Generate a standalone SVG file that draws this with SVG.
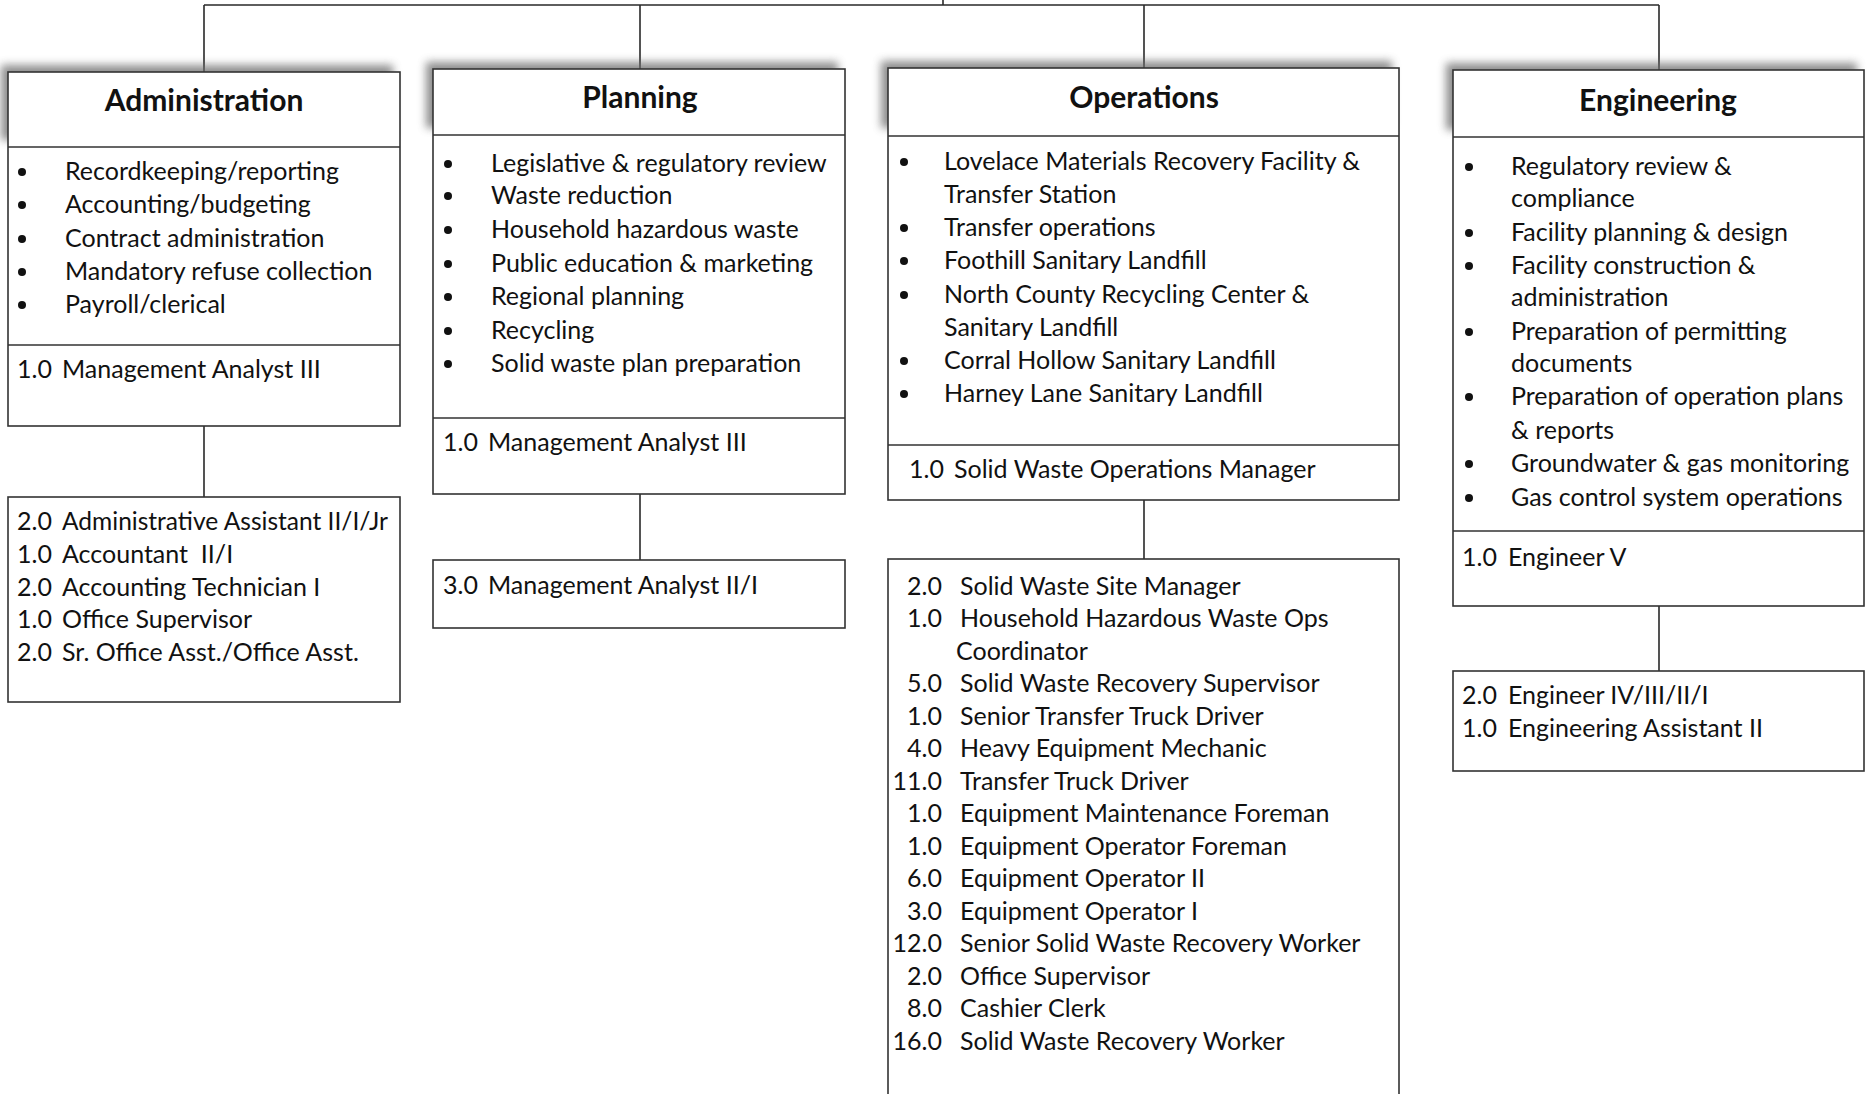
<svg xmlns="http://www.w3.org/2000/svg" width="1872" height="1094" viewBox="0 0 1872 1094">
  <defs>
    <filter id="hdrShadow" x="-10%" y="-40%" width="120%" height="180%">
      <feGaussianBlur stdDeviation="4"/>
    </filter>
    <style>
      .box { fill: #ffffff; stroke: #333333; stroke-width: 1.6; }
      .rule { stroke: #333333; stroke-width: 1.6; fill: none; }
      .shadow { fill: #6a6a6a; opacity: 0.75; filter: url(#hdrShadow); }
      .link { stroke: #2a2a2a; stroke-width: 1.6; fill: none; }
      .title { font-family: Lato, "Liberation Sans", sans-serif; font-weight: bold; font-size: 30px; fill: #111; text-anchor: middle; }
      .item { font-family: Lato, "Liberation Sans", sans-serif; font-size: 25px; fill: #111; }
      .num { text-anchor: end; }
      .dot { fill: #111; }
    </style>
  </defs>

  <rect width="1872" height="1094" fill="#ffffff"/>

  <!-- connectors -->
  <g id="connectors">
    <path class="link" d="M943 0 V5 M204 5 H1659 M204 5 V72 M640 5 V69 M1144 5 V68 M1659 5 V70"/>
    <path class="link" d="M204 426 V497 M640 494 V560 M1144 500 V559 M1659 606 V671"/>
  </g>

  <!-- Administration -->
  <g id="administration">
    <rect class="shadow" x="1" y="65" width="392" height="75"/>
    <rect class="box" x="8" y="72" width="392" height="354"/>
    <path class="rule" d="M8 147 H400 M8 345 H400"/>
    <text class="title" x="204" y="111">Administration</text>
    <g class="item">
      <circle class="dot" cx="22" cy="172" r="4"/><text x="65" y="180">Recordkeeping/reporting</text>
      <circle class="dot" cx="22" cy="205" r="4"/><text x="65" y="213">Accounting/budgeting</text>
      <circle class="dot" cx="22" cy="239" r="4"/><text x="65" y="247">Contract administration</text>
      <circle class="dot" cx="22" cy="272" r="4"/><text x="65" y="280">Mandatory refuse collection</text>
      <circle class="dot" cx="22" cy="305" r="4"/><text x="65" y="313">Payroll/clerical</text>
    </g>
    <text class="item" y="378"><tspan x="17">1.0</tspan><tspan x="62">Management Analyst III</tspan></text>
  </g>
  <g id="administration-staff">
    <rect class="box" x="8" y="497" width="392" height="205"/>
    <g class="item">
      <text y="530"><tspan x="17">2.0</tspan><tspan x="62" textLength="326" lengthAdjust="spacingAndGlyphs">Administrative Assistant II/I/Jr</tspan></text>
      <text y="563"><tspan x="17">1.0</tspan><tspan x="62" xml:space="preserve">Accountant  II/I</tspan></text>
      <text y="596"><tspan x="17">2.0</tspan><tspan x="62">Accounting Technician I</tspan></text>
      <text y="628"><tspan x="17">1.0</tspan><tspan x="62">Office Supervisor</tspan></text>
      <text y="661"><tspan x="17">2.0</tspan><tspan x="62">Sr. Office Asst./Office Asst.</tspan></text>
    </g>
  </g>

  <!-- Planning -->
  <g id="planning">
    <rect class="shadow" x="426" y="62" width="412" height="66"/>
    <rect class="box" x="433" y="69" width="412" height="425"/>
    <path class="rule" d="M433 135 H845 M433 418 H845"/>
    <text class="title" x="640" y="108">Planning</text>
    <g class="item">
      <circle class="dot" cx="448" cy="164" r="4"/><text x="491" y="172">Legislative &amp; regulatory review</text>
      <circle class="dot" cx="448" cy="196" r="4"/><text x="491" y="204">Waste reduction</text>
      <circle class="dot" cx="448" cy="230" r="4"/><text x="491" y="238">Household hazardous waste</text>
      <circle class="dot" cx="448" cy="264" r="4"/><text x="491" y="272">Public education &amp; marketing</text>
      <circle class="dot" cx="448" cy="297" r="4"/><text x="491" y="305">Regional planning</text>
      <circle class="dot" cx="448" cy="331" r="4"/><text x="491" y="339">Recycling</text>
      <circle class="dot" cx="448" cy="364" r="4"/><text x="491" y="372">Solid waste plan preparation</text>
    </g>
    <text class="item" y="451"><tspan x="443">1.0</tspan><tspan x="488">Management Analyst III</tspan></text>
  </g>
  <g id="planning-staff">
    <rect class="box" x="433" y="560" width="412" height="68"/>
    <text class="item" y="594"><tspan x="443">3.0</tspan><tspan x="488">Management Analyst II/I</tspan></text>
  </g>

  <!-- Operations -->
  <g id="operations">
    <rect class="shadow" x="881" y="61" width="511" height="67"/>
    <rect class="box" x="888" y="68" width="511" height="432"/>
    <path class="rule" d="M888 136 H1399 M888 445 H1399"/>
    <text class="title" x="1144" y="108">Operations</text>
    <g class="item">
      <circle class="dot" cx="904" cy="162" r="4"/><text x="944" y="170">Lovelace Materials Recovery Facility &amp;</text>
      <text x="944" y="203">Transfer Station</text>
      <circle class="dot" cx="904" cy="228" r="4"/><text x="944" y="236">Transfer operations</text>
      <circle class="dot" cx="904" cy="261" r="4"/><text x="944" y="269">Foothill Sanitary Landfill</text>
      <circle class="dot" cx="904" cy="295" r="4"/><text x="944" y="303">North County Recycling Center &amp;</text>
      <text x="944" y="336">Sanitary Landfill</text>
      <circle class="dot" cx="904" cy="361" r="4"/><text x="944" y="369">Corral Hollow Sanitary Landfill</text>
      <circle class="dot" cx="904" cy="394" r="4"/><text x="944" y="402">Harney Lane Sanitary Landfill</text>
    </g>
    <text class="item" y="478"><tspan x="909">1.0</tspan><tspan x="954">Solid Waste Operations Manager</tspan></text>
  </g>
  <g id="operations-staff">
    <rect class="box" x="888" y="559" width="511" height="560"/>
    <g class="item">
      <text class="num" x="942" y="595">2.0</text><text x="960" y="595">Solid Waste Site Manager</text>
      <text class="num" x="942" y="627">1.0</text><text x="960" y="627">Household Hazardous Waste Ops</text>
      <text x="956" y="660">Coordinator</text>
      <text class="num" x="942" y="692">5.0</text><text x="960" y="692">Solid Waste Recovery Supervisor</text>
      <text class="num" x="942" y="725">1.0</text><text x="960" y="725">Senior Transfer Truck Driver</text>
      <text class="num" x="942" y="757">4.0</text><text x="960" y="757">Heavy Equipment Mechanic</text>
      <text class="num" x="942" y="790">11.0</text><text x="960" y="790">Transfer Truck Driver</text>
      <text class="num" x="942" y="822">1.0</text><text x="960" y="822">Equipment Maintenance Foreman</text>
      <text class="num" x="942" y="855">1.0</text><text x="960" y="855">Equipment Operator Foreman</text>
      <text class="num" x="942" y="887">6.0</text><text x="960" y="887">Equipment Operator II</text>
      <text class="num" x="942" y="920">3.0</text><text x="960" y="920">Equipment Operator I</text>
      <text class="num" x="942" y="952">12.0</text><text x="960" y="952">Senior Solid Waste Recovery Worker</text>
      <text class="num" x="942" y="985">2.0</text><text x="960" y="985">Office Supervisor</text>
      <text class="num" x="942" y="1017">8.0</text><text x="960" y="1017">Cashier Clerk</text>
      <text class="num" x="942" y="1050">16.0</text><text x="960" y="1050">Solid Waste Recovery Worker</text>
    </g>
  </g>

  <!-- Engineering -->
  <g id="engineering">
    <rect class="shadow" x="1446" y="63" width="411" height="67"/>
    <rect class="box" x="1453" y="70" width="411" height="536"/>
    <path class="rule" d="M1453 137 H1864 M1453 531 H1864"/>
    <text class="title" x="1658" y="111">Engineering</text>
    <g class="item">
      <circle class="dot" cx="1469" cy="167" r="4"/><text x="1511" y="175">Regulatory review &amp;</text>
      <text x="1511" y="207">compliance</text>
      <circle class="dot" cx="1469" cy="233" r="4"/><text x="1511" y="241">Facility planning &amp; design</text>
      <circle class="dot" cx="1469" cy="266" r="4"/><text x="1511" y="274">Facility construction &amp;</text>
      <text x="1511" y="306">administration</text>
      <circle class="dot" cx="1469" cy="332" r="4"/><text x="1511" y="340">Preparation of permitting</text>
      <text x="1511" y="372">documents</text>
      <circle class="dot" cx="1469" cy="397" r="4"/><text x="1511" y="405">Preparation of operation plans</text>
      <text x="1511" y="439">&amp; reports</text>
      <circle class="dot" cx="1469" cy="464" r="4"/><text x="1511" y="472">Groundwater &amp; gas monitoring</text>
      <circle class="dot" cx="1469" cy="498" r="4"/><text x="1511" y="506">Gas control system operations</text>
    </g>
    <text class="item" y="566"><tspan x="1462">1.0</tspan><tspan x="1508">Engineer V</tspan></text>
  </g>
  <g id="engineering-staff">
    <rect class="box" x="1453" y="671" width="411" height="100"/>
    <g class="item">
      <text y="704"><tspan x="1462">2.0</tspan><tspan x="1508">Engineer IV/III/II/I</tspan></text>
      <text y="737"><tspan x="1462">1.0</tspan><tspan x="1508">Engineering Assistant II</tspan></text>
    </g>
  </g>
</svg>
